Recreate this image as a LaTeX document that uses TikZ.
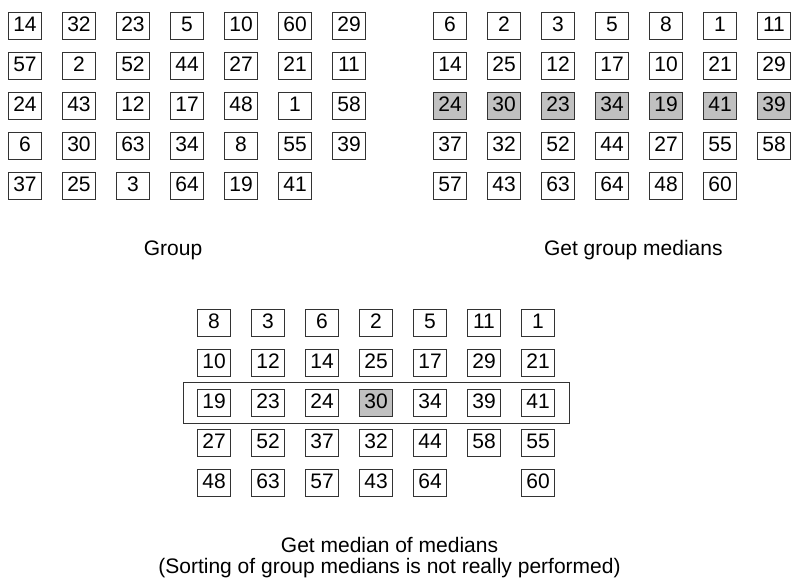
\documentclass[tikz,border=0pt]{standalone}
\usepackage{fontspec}
\setmainfont{Liberation Sans}
\usetikzlibrary{fit}
\definecolor{boxline}{HTML}{333333}
\definecolor{hifill}{HTML}{C0C0C0}
\begin{document}
\begin{tikzpicture}[x=1pt,y=-1pt,
  cell/.style={draw=boxline, line width=0.8pt, minimum width=33.3pt, minimum height=26.7pt,
    inner sep=0pt, text height=12pt, text depth=0pt, font=\fontsize{21}{24}\selectfont},
  caption/.style={font=\fontsize{21}{21}\selectfont, anchor=base, inner sep=0pt}]
\useasboundingbox (0,0) rectangle (791,582);
% left grid: Group
\foreach \row [count=\r from 0] in {{14,32,23,5,10,60,29},{57,2,52,44,27,21,11},{24,43,12,17,48,1,58},{6,30,63,34,8,55,39},{37,25,3,64,19,41}}{
  \foreach \v [count=\c from 0] in \row {
    \node[cell, fill=white] (L-\r-\c) at (25+54*\c, 25.65+40*\r) {\v};
  }
}
% right grid: group medians
\foreach \row [count=\r from 0] in {{6,2,3,5,8,1,11},{14,25,12,17,10,21,29},{24,30,23,34,19,41,39},{37,32,52,44,27,55,58},{57,43,63,64,48,60}}{
  \foreach \v [count=\c from 0] in \row {
    \ifnum\r=2 \def\fillc{hifill}\else\def\fillc{white}\fi
    \node[cell, fill=\fillc] (R-\r-\c) at (450+54*\c, 25.65+40*\r) {\v};
  }
}
% bottom grid: median of medians
\foreach \row [count=\r from 0] in {{8,3,6,2,5,11,1},{10,12,14,25,17,29,21},{19,23,24,30,34,39,41},{27,52,37,32,44,58,55},{48,63,57,43,64,{},60}}{
  \foreach \v [count=\c from 0] in \row {
    \def\fillc{white}
    \ifnum\r=2 \ifnum\c=3 \def\fillc{hifill}\fi\fi
    \ifnum\r=4 \ifnum\c=5 \else
      \node[cell, fill=\fillc] (B-\r-\c) at (214+54*\c, 322.65+40*\r) {\v};
    \fi\else
      \node[cell, fill=\fillc] (B-\r-\c) at (214+54*\c, 322.65+40*\r) {\v};
    \fi
  }
}
\node[draw=boxline, line width=0.8pt, fit=(B-2-0)(B-2-6), inner xsep=14pt, inner ysep=7pt] (medrow) {};
% captions
\node[caption] (cap1) at (173,255.5) {Group};
\node[caption] (cap2) at (633.3,255.5) {Get group medians};
\node[caption, align=center] (cap3) at (389.5,573.5) {Get median of medians\\(Sorting of group medians is not really performed)};
\end{tikzpicture}
\end{document}
